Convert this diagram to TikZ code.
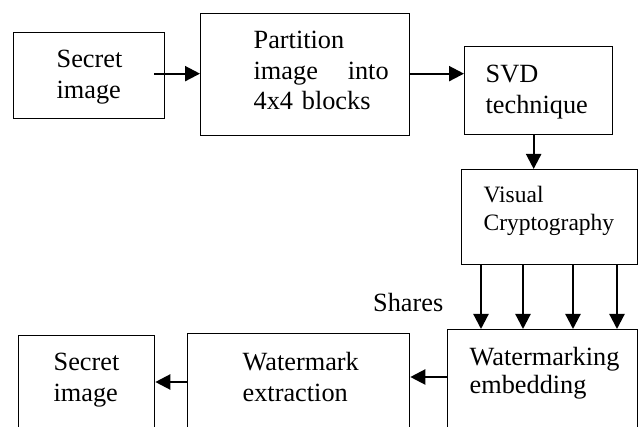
\documentclass[tikz,border=0pt]{standalone}
\usepackage{fontspec}
\setmainfont{Liberation Serif}
\usetikzlibrary{arrows.meta}

\begin{document}
\begin{tikzpicture}[x=1pt, y=-1pt,
        box/.style={draw=black, line width=1.3pt, anchor=north west, align=left,
            inner ysep=0pt, font=\fontsize{26.3}{30.5}\selectfont},
        arr/.style={black, line width=2.2pt, -{Triangle[length=15pt, width=15pt]}}]
    \useasboundingbox (0,0) rectangle (638,427);
    % top row
    \node[box, minimum width=151pt, inner xsep=43pt, text width=65pt, text height=35pt, text depth=51pt] (secret) at (13,32) {Secret\\image};
    \node[box, minimum width=209pt, inner xsep=53pt, text width=103pt, text height=35pt, text depth=87pt] (part) at (200,13) {Partition\\\makebox[135pt][l]{image\hfill into}\\\mbox{4x4 blocks}};
    \node[box, minimum width=148pt, inner xsep=21pt, text width=106pt, text height=36pt, text depth=52pt] (svd) at (464,46) {SVD\\technique};
    \node[box, minimum width=176pt, inner xsep=22pt, text width=132pt, text height=33pt, text depth=62pt, font=\fontsize{23.5}{28}\selectfont] (vc) at (461,169) {Visual\\Cryptography};
    % bottom row, cut off by the page edge
    \node[box, minimum width=190pt, inner xsep=22pt, text width=146pt, text height=36pt, text depth=130pt, font=\fontsize{26.3}{28}\selectfont] (we) at (447,329) {\mbox{Watermarking}\\embedding};
    \node[box, minimum width=222pt, inner xsep=55pt, text width=112pt, text height=37pt, text depth=120pt] (wx) at (187,333) {Watermark\\extraction};
    \node[box, minimum width=136pt, inner xsep=35pt, text width=66pt, text height=35pt, text depth=120pt] (secretout) at (18,335) {Secret\\image};
    \node[anchor=base west, font=\fontsize{26.3}{30.5}\selectfont, inner sep=0pt] (shares) at (373,312) {Shares};
    % connectors
    \draw[arr] ([xshift=-11pt, yshift=2pt]secret.east) -- ([yshift=1pt]part.west);
    \draw[arr] ([yshift=1pt]part.east) -- ([yshift=1pt]part.east -| svd.west);
    \draw[arr] ([xshift=-5pt]svd.south) -- ([xshift=-5pt]svd.south |- vc.north);
    \foreach \sx in {481,523,573,617} {
        \coordinate (sh) at (\sx,0);
        \draw[arr] (vc.south -| sh) -- (we.north -| sh);
    }
    \draw[arr] ([yshift=-48pt]we.north west) -- ([yshift=-48pt]we.north west -| wx.east);
    \draw[arr] ([yshift=-49pt]wx.north west) -- ([yshift=-49pt]wx.north west -| secretout.east);
\end{tikzpicture}
\end{document}
